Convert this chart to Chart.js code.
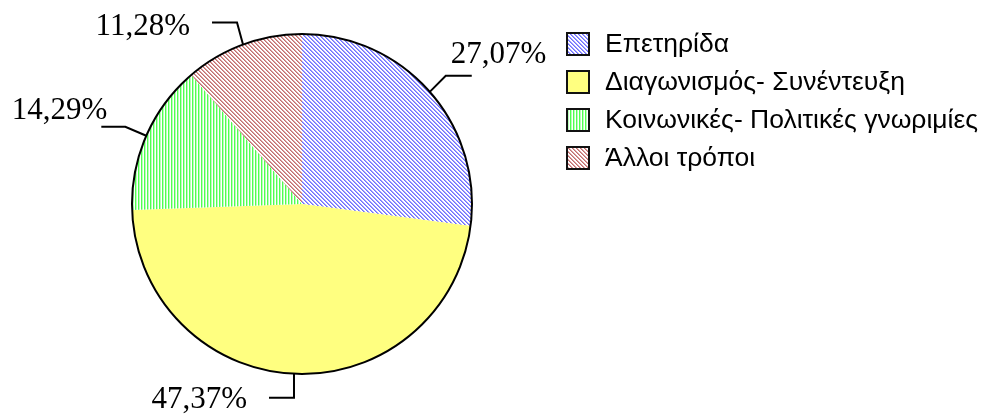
<!DOCTYPE html>
<html>
<head>
<meta charset="utf-8">
<script src="https://cdn.jsdelivr.net/npm/chart.js@4/dist/chart.umd.min.js"></script>
<style>
  html, body { margin: 0; padding: 0; background: #fff; }
  #wrap { width: 986px; height: 414px; position: relative; }
</style>
</head>
<body>
<div id="wrap"><canvas id="pie" width="986" height="414"></canvas></div>
<script>
// ─── DATA ─────────────────────────────────────────────────────────────────
const categories = ['Επετηρίδα', 'Διαγωνισμός- Συνέντευξη', 'Κοινωνικές- Πολιτικές γνωριμίες', 'Άλλοι τρόποι'];
const shares = [27.07, 47.37, 14.29, 11.28];
const shareLabels = ['27,07%', '47,37%', '14,29%', '11,28%'];

// ─── FILL PATTERNS ────────────────────────────────────────────────────────
function hatch(dark, light, kind) {
  const c = document.createElement('canvas');
  c.width = 12; c.height = 12;
  const g = c.getContext('2d');
  g.fillStyle = '#fff';
  g.fillRect(0, 0, 12, 12);
  for (let y = 0; y < 12; y++) {
    for (let x = 0; x < 12; x++) {
      let col = null;
      if (kind === 'vert') {
        if (x % 3 === 0) col = dark; else if (x % 3 === 1) col = light;
      } else {
        const k = (x - y + 12) % 4;
        if (k === 0) col = dark;
        else if (k === 1) col = light;
      }
      if (col) { g.fillStyle = col; g.fillRect(x, y, 1, 1); }
    }
  }
  return g.createPattern(c, 'repeat');
}

const fills = [
  hatch('#7070ff', '#a0a0ff', 'diag'),
  '#ffff80',
  hatch('#50ff50', '#b8ffb8', 'vert'),
  hatch('#c07070', '#dca0a0', 'diag')
];

// leader line geometry per slice: elbow point and end of horizontal run, relative to the rim point
const leaders = [
  { elbow: [16, -16], run: 26, text: [21, -29], align: 'left' },
  { elbow: [0, 24], run: -25, text: [-47, 34], align: 'right' },
  { elbow: [-21, -9], run: -24, text: [-39, -17], align: 'right' },
  { elbow: [-6, -22], run: -25, text: [-53, -10], align: 'right' }
];

const pieExtras = {
  id: 'pieExtras',
  afterDatasetsDraw(chart) {
    const ctx = chart.ctx;
    const arcs = chart.getDatasetMeta(0).data;
    const a0 = arcs[0];
    ctx.save();
    // outer rim
    ctx.beginPath();
    ctx.arc(a0.x, a0.y, a0.outerRadius, 0, Math.PI * 2);
    ctx.lineWidth = 2;
    ctx.strokeStyle = '#000';
    ctx.stroke();

    // leader lines + labels
    ctx.font = '31px "Liberation Serif", "Times New Roman", serif';
    ctx.fillStyle = '#000';
    ctx.textBaseline = 'alphabetic';
    arcs.forEach((arc, i) => {
      const mid = (arc.startAngle + arc.endAngle) / 2;
      const px = arc.x + Math.cos(mid) * arc.outerRadius;
      const py = arc.y + Math.sin(mid) * arc.outerRadius;
      const L = leaders[i];
      const ex = px + L.elbow[0], ey = py + L.elbow[1];
      ctx.beginPath();
      ctx.moveTo(px, py);
      ctx.lineTo(ex, ey);
      ctx.lineTo(ex + L.run, ey);
      ctx.lineWidth = 2;
      ctx.stroke();
      ctx.textAlign = L.align;
      ctx.fillText(shareLabels[i], px + L.text[0], py + L.text[1]);
    });

    // legend
    ctx.font = '26.5px "Liberation Sans", Arial, sans-serif';
    ctx.textAlign = 'left';
    ctx.textBaseline = 'middle';
    categories.forEach((name, i) => {
      const cy = 44 + i * 38;
      ctx.fillStyle = fills[i];
      ctx.fillRect(567, cy - 11, 22, 22);
      ctx.lineWidth = 2;
      ctx.strokeStyle = '#111';
      ctx.strokeRect(567, cy - 11, 22, 22);
      ctx.fillStyle = '#000';
      ctx.fillText(name, 605, cy + 1);
    });
    ctx.restore();
  }
};

new Chart(document.getElementById('pie'), {
  type: 'pie',
  data: {
    labels: categories,
    datasets: [{ data: shares, backgroundColor: fills, borderWidth: 0 }]
  },
  options: {
    responsive: false,
    animation: false,
    layout: { padding: { left: 132, right: 514, top: 34, bottom: 40 } },
    plugins: { legend: { display: false }, tooltip: { enabled: false } }
  },
  plugins: [pieExtras]
});
</script>
</body>
</html>
